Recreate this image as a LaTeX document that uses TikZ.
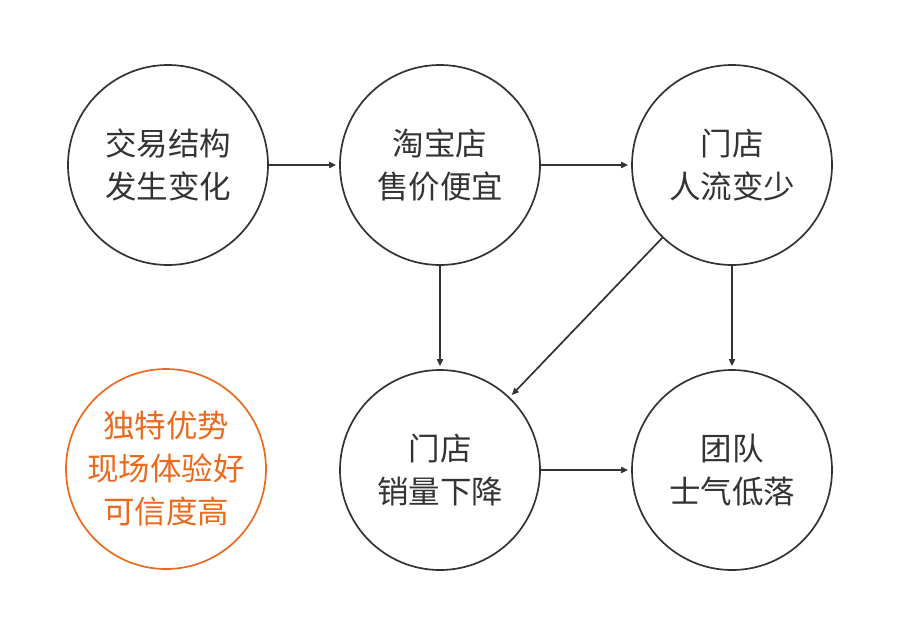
\documentclass[tikz,border=0pt]{standalone}
\usepackage{fontspec}
\newfontfamily\cjk{Noto Sans CJK SC}
\usetikzlibrary{arrows.meta}
\definecolor{ink}{HTML}{333333}
\definecolor{accent}{HTML}{EB6A1E}
\begin{document}
\begin{tikzpicture}[x=1pt,y=-1pt,
  bubble/.style={circle, draw=ink, line width=1.7pt, minimum size=200pt, inner sep=0pt,
    align=center, font=\cjk\fontsize{31.5}{43}\selectfont, text=ink,
    execute at begin node={\rule{0pt}{36pt}}},
  hot/.style={bubble, draw=accent, text=accent},
  link/.style={draw=ink, line width=1.7pt, -{Triangle[length=7pt,width=6pt]}, shorten >=3pt}]
\useasboundingbox[fill=white] (0,0) rectangle (899,627);
\node[bubble] (a) at (168,165) {交易结构\\发生变化};
\node[bubble] (b) at (440,165) {淘宝店\\售价便宜};
\node[bubble] (c) at (732,165) {门店\\人流变少};
\node[hot]    (d) at (166,469) {独特优势\\现场体验好\\可信度高};
\node[bubble] (e) at (440,470) {门店\\销量下降};
\node[bubble] (f) at (732,470) {团队\\士气低落};
\draw[link] (a) -- (b);
\draw[link] (b) -- (c);
\draw[link] (b) -- (e);
\draw[link] (c) -- (e);
\draw[link] (c) -- (f);
\draw[link] (e) -- (f);
\end{tikzpicture}
\end{document}
